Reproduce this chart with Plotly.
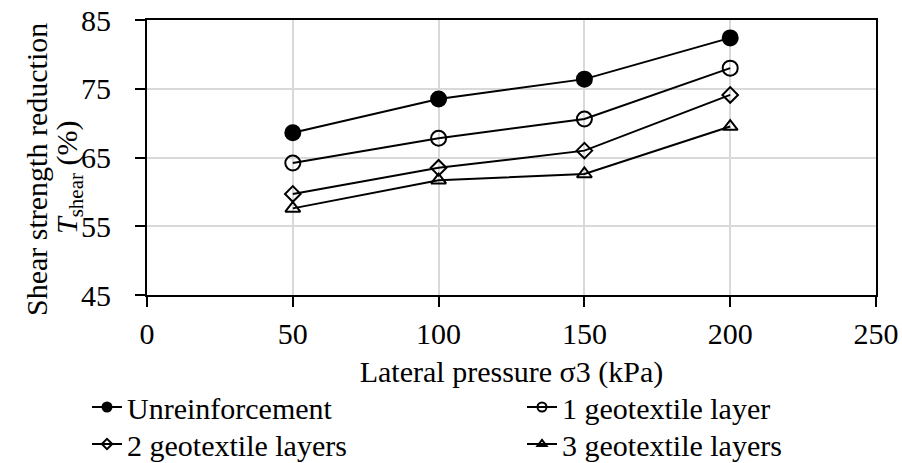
import plotly.graph_objects as go

# Data
pressure = [50, 100, 150, 200]
unreinforced = [68.6, 73.5, 76.4, 82.4]
one_layer = [64.2, 67.8, 70.6, 78.0]
two_layers = [59.7, 63.5, 66.0, 74.1]
three_layers = [57.6, 61.7, 62.6, 69.5]

series_names = ["Unreinforcement", "1 geotextile layer", "2 geotextile layers", "3 geotextile layers"]
series_values = [unreinforced, one_layer, two_layers, three_layers]
symbols = ["circle", "circle-open", "diamond-open", "triangle-up-open"]
sizes = [15, 15, 12, 13]
legend_sizes = [9, 9, 8, 8]
legend_ids = ["legend", "legend", "legend2", "legend2"]

x_ticks = [0, 50, 100, 150, 200, 250]
y_ticks = [45, 55, 65, 75, 85]

FONT = "Liberation Serif"
FS = 30

L, R, T, B = 147, 26, 20, 168
W, H = 902, 463
PW, PH = W - L - R, H - T - B

fig = go.Figure()
for name, vals, sym, sz in zip(series_names, series_values, symbols, sizes):
    fig.add_trace(go.Scatter(
        x=pressure, y=vals, mode="lines+markers", name=name, showlegend=False,
        line=dict(color="black", width=2),
        marker=dict(symbol=sym, size=sz, color="black", line=dict(color="black", width=2)),
    ))
# legend-only entries with smaller markers
for name, sym, sz, lg in zip(series_names, symbols, legend_sizes, legend_ids):
    fig.add_trace(go.Scatter(
        x=[None], y=[None], mode="lines+markers", name=name, showlegend=True,
        legend=lg,
        line=dict(color="black", width=2),
        marker=dict(symbol=sym, size=sz, color="black", line=dict(color="black", width=2)),
    ))

legend_common = dict(
    orientation="h", xref="paper", yref="paper",
    x=(87 - L) / PW, xanchor="left", yanchor="top",
    entrywidth=390, entrywidthmode="pixels",
    font=dict(size=FS), bgcolor="rgba(0,0,0,0)",
    itemwidth=30,
)

fig.update_layout(
    width=W, height=H,
    margin=dict(l=L, r=R, t=T, b=B, autoexpand=False),
    paper_bgcolor="white", plot_bgcolor="white",
    font=dict(family=FONT, size=FS, color="black"),
    xaxis=dict(
        range=[0, 250], tickvals=x_ticks, ticktext=[str(v) for v in x_ticks],
        showgrid=True, gridcolor="#d9d9d9", gridwidth=1.5,
        showline=True, linecolor="black", linewidth=2, mirror=True,
        ticks="outside", ticklen=10, tickwidth=2, tickcolor="black",
        ticklabelstandoff=1,
        zeroline=False,
        title=dict(text="Lateral pressure σ3 (kPa)", font=dict(size=FS), standoff=12),
    ),
    yaxis=dict(
        range=[45, 85], tickvals=y_ticks, ticktext=[str(v) for v in y_ticks],
        showgrid=True, gridcolor="#d9d9d9", gridwidth=1.5,
        showline=True, linecolor="black", linewidth=2, mirror=True,
        ticks="outside", ticklen=10, tickwidth=2, tickcolor="black",
        ticklabelstandoff=18,
        zeroline=False,
    ),
    legend=dict(legend_common, y=(H - B - 381) / PH),
    legend2=dict(legend_common, y=(H - B - 418) / PH),
    annotations=[
        dict(text="Shear strength reduction", xref="paper", yref="paper",
             x=(36 - L) / PW, y=(H - B - 170) / PH, xanchor="center", yanchor="middle",
             textangle=-90, showarrow=False, font=dict(size=FS)),
        dict(text="<i>T</i><sub>shear</sub> (%)", xref="paper", yref="paper",
             x=(69 - L) / PW, y=(H - B - 178) / PH, xanchor="center", yanchor="middle",
             textangle=-90, showarrow=False, font=dict(size=FS)),
    ],
)

fig.write_html("out.html")
